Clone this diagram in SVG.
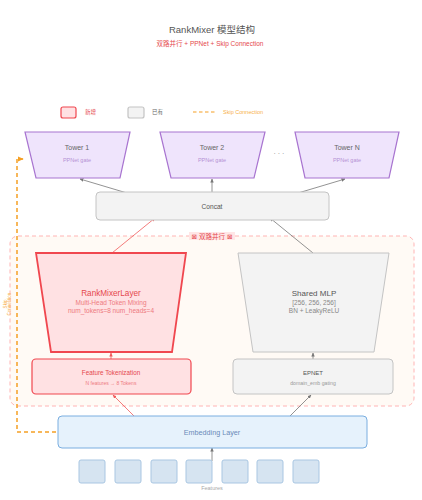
<svg xmlns="http://www.w3.org/2000/svg" width="422" height="500" viewBox="0 0 422 500">
<style>
text{font-family:"Liberation Sans","Noto Sans CJK SC",sans-serif;text-anchor:middle}
.tower{fill:#efe4fc;stroke:#a874d0;stroke-width:1.2}
.tt{font-size:7px;fill:#666}
.ts{font-size:5.5px;fill:#b592d4}
.new{fill:#ffe1e3;stroke:#f0474f;stroke-width:1.8}
.old{fill:#f3f3f3;stroke:#c4c4c4;stroke-width:1}
.ln{stroke:#777;stroke-width:0.8;fill:none}
.lr{stroke:#f05a5a;stroke-width:0.8;fill:none}
.skip{stroke:#f5a024;stroke-width:1.5;stroke-dasharray:4,3;fill:none}
.feat{fill:#d6e4f1;stroke:#a9c6e2;stroke-width:1}
</style>
<defs>
<marker id="ag" viewBox="0 0 8 8" refX="7" refY="4" markerWidth="5" markerHeight="5" orient="auto"><path d="M0,0.5 L8,4 L0,7.5 z" fill="#777"/></marker>
<marker id="ar" viewBox="0 0 8 8" refX="7" refY="4" markerWidth="5" markerHeight="5" orient="auto"><path d="M0,0.5 L8,4 L0,7.5 z" fill="#f05a5a"/></marker>
<marker id="ao" viewBox="0 0 8 8" refX="7" refY="4" markerWidth="4" markerHeight="4" orient="auto"><path d="M0,0.5 L8,4 L0,7.5 z" fill="#f5a024"/></marker>
</defs>
<rect width="422" height="500" fill="#ffffff"/>
<g id="title">
<text x="212" y="33" style="font-size:9.5px;fill:#555">RankMixer 模型结构</text>
<text x="210" y="46" style="font-size:6.5px;fill:#e5484d">双路并行 + PPNet + Skip Connection</text>
</g>
<g id="legend">
<rect x="61" y="107" width="15" height="11" rx="2" class="new" style="stroke-width:1.2"/>
<text x="85" y="114" style="font-size:5.5px;fill:#e5484d;text-anchor:start">新增</text>
<rect x="128" y="107" width="16" height="11" rx="2" class="old" style="stroke-width:1.2"/>
<text x="152" y="114" style="font-size:5.5px;fill:#666;text-anchor:start">已有</text>
<line x1="193" y1="112" x2="216" y2="112" class="skip" style="stroke-width:1.2;stroke-dasharray:3.5,2.5"/>
<text x="223" y="114" style="font-size:5.5px;fill:#f7b04a;text-anchor:start">Skip Connection</text>
</g>
<g id="container">
<rect x="10" y="236" width="404" height="170" rx="8" fill="#fffaf5" stroke="#ffb4b4" stroke-width="1" stroke-dasharray="4,3"/>
<rect x="189" y="232" width="46" height="8" fill="#ffe6e6"/>
<text x="212" y="238.5" style="font-size:6.5px;fill:#e5484d;font-family:'DejaVu Sans','Noto Sans CJK SC',sans-serif">⊠ 双路并行 ⊠</text>
</g>
<g id="connectors">
<line x1="137" y1="196" x2="80" y2="179" class="ln" marker-end="url(#ag)"/>
<line x1="212" y1="196" x2="212" y2="179" class="ln" marker-end="url(#ag)"/>
<line x1="288" y1="196" x2="345" y2="179" class="ln" marker-end="url(#ag)"/>
<line x1="112" y1="253" x2="155" y2="218" class="lr" marker-end="url(#ar)"/>
<line x1="313" y1="253" x2="270" y2="218" class="ln" marker-end="url(#ag)"/>
<line x1="111" y1="359" x2="111" y2="353" class="lr" marker-end="url(#ar)"/>
<line x1="313" y1="359" x2="313" y2="353" class="ln" marker-end="url(#ag)"/>
<line x1="137" y1="419" x2="113" y2="395" class="lr" marker-end="url(#ar)"/>
<line x1="287" y1="419" x2="311" y2="395" class="ln" marker-end="url(#ag)"/>
<line x1="212" y1="461" x2="212" y2="448" class="ln" marker-end="url(#ag)"/>
<path d="M63,432 H17 V159 H23" class="skip" marker-end="url(#ao)"/>
<text transform="translate(6.5,304) rotate(-90)" style="font-size:4.5px;fill:#f7b04a">Skip</text>
<text transform="translate(11,304) rotate(-90)" style="font-size:4.5px;fill:#f7b04a">Connection</text>
</g>
<g id="tower1">
<polygon points="25,132 130,132 120,178 36,178" class="tower"/>
<text x="77" y="150" class="tt">Tower 1</text>
<text x="77" y="162" class="ts">PPNet gate</text>
</g>
<g id="tower2">
<polygon points="160,132 265,132 254,178 171,178" class="tower"/>
<text x="212" y="150" class="tt">Tower 2</text>
<text x="212" y="162" class="ts">PPNet gate</text>
</g>
<g id="dots"><text x="279" y="156" style="font-size:7px;fill:#888">· · ·</text></g>
<g id="towerN">
<polygon points="295,132 399,132 389,178 305,178" class="tower"/>
<text x="347" y="150" class="tt">Tower N</text>
<text x="347" y="162" class="ts">PPNet gate</text>
</g>
<g id="concat">
<rect x="96" y="192" width="233" height="28" rx="4" class="old"/>
<text x="212" y="208.5" style="font-size:6.6px;fill:#555">Concat</text>
</g>
<g id="rankmixer">
<polygon points="36,253 186,253 172,352 51,352" class="new"/>
<text x="111" y="296" style="font-size:8.2px;fill:#e5484d">RankMixerLayer</text>
<text x="111" y="305" style="font-size:6.5px;fill:#ee7a80">Multi-Head Token Mixing</text>
<text x="111" y="312.5" style="font-size:6.5px;fill:#ee7a80">num_tokens=8  num_heads=4</text>
</g>
<g id="sharedmlp">
<polygon points="238,253 389,253 374,352 253,352" class="old"/>
<text x="314" y="296" style="font-size:8px;fill:#555">Shared MLP</text>
<text x="314" y="305" style="font-size:6.5px;fill:#888">[256, 256, 256]</text>
<text x="314" y="312.5" style="font-size:6.5px;fill:#888">BN + LeakyReLU</text>
</g>
<g id="tokenization">
<rect x="32" y="359" width="159" height="35" rx="4" class="new" style="stroke-width:1.2"/>
<text x="111" y="374.5" style="font-size:6.3px;fill:#e5484d">Feature Tokenization</text>
<text x="111" y="385" style="font-size:5px;fill:#ee7a80">N features → 8 Tokens</text>
</g>
<g id="epnet">
<rect x="233" y="359" width="160" height="35" rx="4" class="old"/>
<text x="313" y="374.5" style="font-size:6px;fill:#555">EPNET</text>
<text x="313" y="385" style="font-size:5.2px;fill:#999">domain_emb gating</text>
</g>
<g id="embedding">
<rect x="58" y="416" width="309" height="32" rx="4" fill="#e6f2fc" stroke="#7aaee0" stroke-width="1"/>
<text x="212" y="434.5" style="font-size:7.2px;fill:#6a8ab8">Embedding Layer</text>
</g>
<g id="features">
<rect x="79" y="460" width="26" height="23" rx="2" class="feat"/>
<rect x="115" y="460" width="26" height="23" rx="2" class="feat"/>
<rect x="151" y="460" width="26" height="23" rx="2" class="feat"/>
<rect x="186" y="460" width="26" height="23" rx="2" class="feat"/>
<rect x="222" y="460" width="26" height="23" rx="2" class="feat"/>
<rect x="257" y="460" width="26" height="23" rx="2" class="feat"/>
<rect x="293" y="460" width="26" height="23" rx="2" class="feat"/>
<text x="212" y="489.5" style="font-size:5.5px;fill:#aaa">Features</text>
</g>
</svg>
